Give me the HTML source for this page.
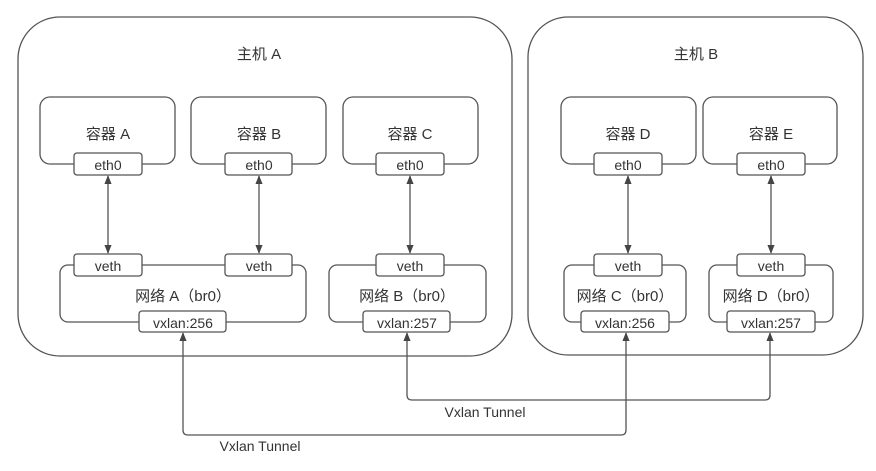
<!DOCTYPE html>
<html><head><meta charset="utf-8"><style>
body{margin:0;background:#fff;}
svg text{font-family:"Liberation Sans","Noto Sans CJK SC",sans-serif;fill:#333;}
</style></head><body>
<svg width="876" height="466" viewBox="0 0 876 466" xmlns="http://www.w3.org/2000/svg">
<defs><marker id="a" viewBox="0 0 10 10" refX="9" refY="5" markerWidth="7" markerHeight="7" orient="auto-start-reverse"><path d="M0,1 L10,5 L0,9z" fill="#444"/></marker></defs>
<g fill="none" stroke="#555" stroke-width="1.3">
<rect x="18" y="17" width="494" height="339" rx="42"/>
<rect x="528" y="17" width="335" height="338" rx="40"/>
<rect x="40" y="97" width="135" height="67" rx="10"/>
<rect x="191" y="97" width="135" height="67" rx="10"/>
<rect x="343" y="97" width="135" height="67" rx="10"/>
<rect x="561" y="97" width="135" height="67" rx="10"/>
<rect x="703" y="97" width="134" height="67" rx="10"/>
<rect x="60" y="265" width="246" height="57" rx="8"/>
<rect x="329" y="265" width="157" height="57" rx="8"/>
<rect x="564" y="265" width="122" height="57" rx="8"/>
<rect x="709" y="265" width="124" height="57" rx="8"/>
<g marker-start="url(#a)" marker-end="url(#a)">
<line x1="108" y1="176" x2="108" y2="253"/>
<line x1="259" y1="176" x2="259" y2="253"/>
<line x1="410" y1="176" x2="410" y2="253"/>
<line x1="628" y1="176" x2="628" y2="253"/>
<line x1="771" y1="176" x2="771" y2="253"/>
</g>
<path d="M183,333 V430 Q183,435 188,435 H621 Q626,435 626,430 V333" marker-start="url(#a)" marker-end="url(#a)"/>
<path d="M407,333 V395 Q407,400 412,400 H765 Q770,400 770,395 V333" marker-start="url(#a)" marker-end="url(#a)"/>
</g>
<g fill="#fff" stroke="#555" stroke-width="1.3">
<rect x="74" y="153" width="68" height="22" rx="3"/>
<rect x="225" y="153" width="67" height="22" rx="3"/>
<rect x="376" y="153" width="68" height="22" rx="3"/>
<rect x="594" y="153" width="68" height="22" rx="3"/>
<rect x="737" y="153" width="68" height="22" rx="3"/>
<rect x="74" y="254" width="68" height="22" rx="3"/>
<rect x="225" y="254" width="67" height="22" rx="3"/>
<rect x="376" y="254" width="68" height="22" rx="3"/>
<rect x="594" y="254" width="68" height="22" rx="3"/>
<rect x="737" y="254" width="68" height="22" rx="3"/>
<rect x="139" y="311" width="87" height="21" rx="3"/>
<rect x="363" y="311" width="87" height="21" rx="3"/>
<rect x="581" y="311" width="88" height="21" rx="3"/>
<rect x="727" y="311" width="88" height="21" rx="3"/>
</g>
<g font-size="15" text-anchor="middle">
<text x="259" y="59">主机 A</text>
<text x="696" y="59">主机 B</text>
<text x="108" y="139">容器 A</text>
<text x="259" y="139">容器 B</text>
<text x="410" y="139">容器 C</text>
<text x="628" y="139">容器 D</text>
<text x="771" y="139">容器 E</text>
<text x="183" y="301">网络 A（br0）</text>
<text x="407" y="301">网络 B（br0）</text>
<text x="625" y="301">网络 C（br0）</text>
<text x="771" y="301">网络 D（br0）</text>
</g>
<g font-size="14" text-anchor="middle">
<text x="108" y="170">eth0</text><text x="259" y="170">eth0</text><text x="410" y="170">eth0</text><text x="628" y="170">eth0</text><text x="771" y="170">eth0</text>
<text x="108" y="271">veth</text><text x="259" y="271">veth</text><text x="410" y="271">veth</text><text x="628" y="271">veth</text><text x="771" y="271">veth</text>
<text x="183" y="328">vxlan:256</text><text x="407" y="328">vxlan:257</text><text x="625" y="328">vxlan:256</text><text x="771" y="328">vxlan:257</text>
<text x="260" y="451">Vxlan Tunnel</text>
<text x="485" y="417">Vxlan Tunnel</text>
</g>
</svg>
</body></html>
